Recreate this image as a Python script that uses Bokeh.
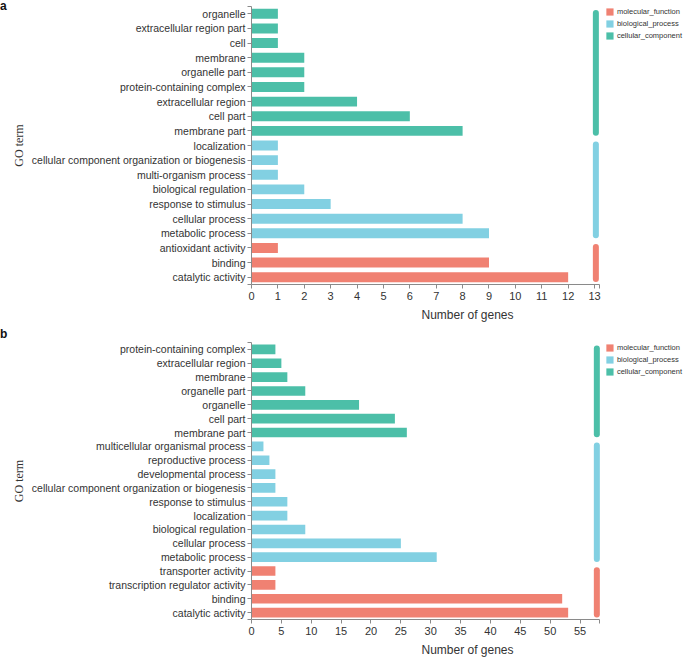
from bokeh.plotting import figure
from bokeh.models import Range1d, FixedTicker, Legend, LegendItem, ColumnDataSource, Div
from bokeh.layouts import column, row
from bokeh.embed import file_html
from bokeh.resources import INLINE

GROUPS = ["molecular_function", "biological_process", "cellular_component"]
COLORS = ["#F08172", "#82D0E2", "#4CBFA8"]

# ---- panel a (listed bottom to top) ----
a_mf_terms = ["catalytic activity", "binding", "antioxidant activity"]
a_mf_counts = [12, 9, 1]
a_bp_terms = ["metabolic process", "cellular process", "response to stimulus",
              "biological regulation", "multi-organism process",
              "cellular component organization or biogenesis", "localization"]
a_bp_counts = [9, 8, 3, 2, 1, 1, 1]
a_cc_terms = ["membrane part", "cell part", "extracellular region",
              "protein-containing complex", "organelle part", "membrane", "cell",
              "extracellular region part", "organelle"]
a_cc_counts = [8, 6, 4, 2, 2, 2, 1, 1, 1]
a_x_ticks = list(range(0, 14, 1))

# ---- panel b (listed bottom to top) ----
b_mf_terms = ["catalytic activity", "binding", "transcription regulator activity",
              "transporter activity"]
b_mf_counts = [53, 52, 4, 4]
b_bp_terms = ["metabolic process", "cellular process", "biological regulation",
              "localization", "response to stimulus",
              "cellular component organization or biogenesis", "developmental process",
              "reproductive process", "multicellular organismal process"]
b_bp_counts = [31, 25, 9, 6, 6, 4, 4, 3, 2]
b_cc_terms = ["membrane part", "cell part", "organelle", "organelle part", "membrane",
              "extracellular region", "protein-containing complex"]
b_cc_counts = [26, 24, 18, 9, 6, 5, 4]
b_x_ticks = list(range(0, 56, 5))

AXIS_COLOR = "#8a8a8a"
TEXT_COLOR = "#333333"
LETTER_W = 8
FIG_W = 685 - LETTER_W
LEFT = 231
RIGHT = 2
AXIS_PX = 358  # length of the drawn x axis inside the frame, in px


def make_panel(letter, terms_by_group, counts_by_group, x_end, x_ticks, bracket_x,
               bar_h, height, top_border, letter_pad):
    n = sum(len(t) for t in terms_by_group)
    frame_w = FIG_W - LEFT - RIGHT
    p = figure(width=FIG_W, height=height, output_backend="svg", toolbar_location=None,
               x_range=Range1d(0, x_end * frame_w / AXIS_PX),
               y_range=Range1d(-0.5, n - 0.5),
               min_border_top=top_border, min_border_left=LEFT, min_border_right=RIGHT,
               min_border_bottom=0, margin=0)
    p.outline_line_color = None
    p.xgrid.visible = False
    p.ygrid.visible = False

    items = []
    idx = 0
    labels = {}
    for g, col, terms, counts in zip(GROUPS, COLORS, terms_by_group, counts_by_group):
        ys = list(range(idx, idx + len(terms)))
        src = ColumnDataSource(dict(y=ys, right=counts, term=terms))
        r = p.hbar(y="y", left=0, right="right", height=bar_h, source=src,
                   fill_color=col, line_color=None)
        items.append(LegendItem(label=g, renderers=[r]))
        p.segment(x0=bracket_x, x1=bracket_x, y0=ys[0] - 0.13, y1=ys[-1] + 0.06,
                  line_width=6, line_color=col, line_cap="round")
        for y, t in zip(ys, terms):
            labels[y] = t
        idx += len(terms)

    labels[-0.5] = ""
    labels[n - 0.5] = ""
    p.yaxis.ticker = FixedTicker(ticks=[-0.5] + list(range(n)) + [n - 0.5])
    p.yaxis.major_label_overrides = labels
    p.xaxis.ticker = FixedTicker(ticks=x_ticks + [x_end])
    p.xaxis.major_label_overrides = {x_end: ""}
    p.xaxis.bounds = (0, x_end)

    for ax in (p.xaxis[0], p.yaxis[0]):
        ax.axis_line_color = AXIS_COLOR
        ax.major_tick_line_color = AXIS_COLOR
        ax.minor_tick_line_color = None
        ax.major_tick_in = 0
        ax.major_tick_out = 4
        ax.major_label_text_color = TEXT_COLOR
        ax.major_label_text_font = "Liberation Sans"
        ax.major_label_text_font_size = "10.5px"
        ax.major_label_standoff = 2
        ax.axis_label_text_color = TEXT_COLOR
        ax.axis_label_text_font_style = "normal"

    p.xaxis.axis_label = "Number of genes"
    p.xaxis.axis_label_text_font = "Liberation Sans"
    p.xaxis.axis_label_text_font_size = "12px"
    p.xaxis.axis_label_standoff = 5
    p.xaxis.major_label_text_font_size = "11px"
    p.xaxis.major_label_standoff = 3

    p.yaxis.axis_label = "GO term"
    p.yaxis.axis_label_text_font = "Liberation Serif"
    p.yaxis.axis_label_text_font_size = "12px"
    p.yaxis.axis_label_standoff = 3

    legend = Legend(items=list(items), location="top_right", orientation="vertical",
                    label_text_font="Liberation Sans", label_text_font_size="7.5px",
                    label_text_color=TEXT_COLOR, glyph_width=9, glyph_height=9,
                    label_height=9, label_standoff=3, spacing=3, padding=0, margin=1,
                    border_line_color=None, background_fill_alpha=0)
    p.add_layout(legend)

    tag = Div(text=f"<div style='margin-top:{letter_pad}px'>{letter}</div>",
              width=LETTER_W, height=height, margin=0,
              styles={"font-family": "Liberation Sans", "font-weight": "bold",
                      "font-size": "12px", "line-height": "12px", "color": "#111111",
                      "overflow": "visible", "white-space": "nowrap"})
    return row(tag, p, spacing=0, margin=0)


pa = make_panel("a", [a_mf_terms, a_bp_terms, a_cc_terms],
                [a_mf_counts, a_bp_counts, a_cc_counts],
                13.2, a_x_ticks, 13.05, 0.68, 324, 6, -3)
pb = make_panel("b", [b_mf_terms, b_bp_terms, b_cc_terms],
                [b_mf_counts, b_bp_counts, b_cc_counts],
                58.3, b_x_ticks, 57.8, 0.7, 335, 18, 4)

layout = column(pa, pb, spacing=0, margin=0)
open("out.html", "w").write(file_html(layout, INLINE))
